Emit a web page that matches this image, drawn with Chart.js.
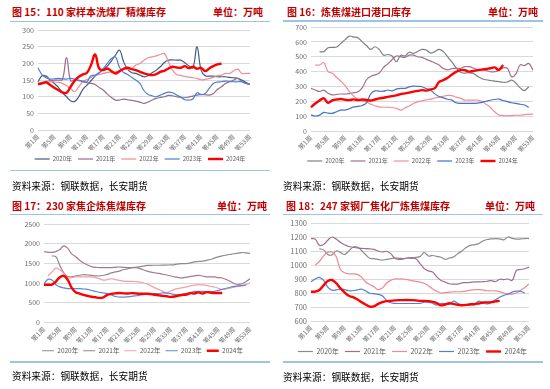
<!DOCTYPE html>
<html><head><meta charset="utf-8">
<script src="https://cdn.jsdelivr.net/npm/chart.js@4.4.1/dist/chart.umd.min.js"></script>
<style>
html,body{margin:0;padding:0;background:#fff;width:550px;height:389px;overflow:hidden;position:relative;font-family:"Noto Sans CJK SC",sans-serif;}
.t{position:absolute;font-weight:bold;color:#C00000;font-size:10px;line-height:12px;white-space:nowrap;}
.hl{position:absolute;height:1.5px;background:#9DC3E6;}
.src{position:absolute;font-size:9.7px;line-height:12px;color:#000;white-space:nowrap;}
canvas{position:absolute;}
</style></head><body>
<canvas id="c15" width="272" height="150" style="left:4px;top:22px;width:272px;height:150px;"></canvas>
<canvas id="c16" width="275" height="156" style="left:275px;top:18px;width:275px;height:156px;"></canvas>
<canvas id="c17" width="271" height="150" style="left:7px;top:214px;width:271px;height:150px;"></canvas>
<canvas id="c18" width="275" height="151" style="left:275px;top:214px;width:275px;height:151px;"></canvas>

<div class="t" style="left:12px;top:6px;">图 15：110 家样本洗煤厂精煤库存</div>
<div class="t" style="right:287px;top:6px;">单位：万吨</div>
<div class="hl" style="left:10px;width:260px;top:20.5px;"></div>
<div class="hl" style="left:10px;width:260px;top:169.5px;"></div>
<div class="src" style="left:12px;top:180px;">资料来源：钢联数据，长安期货</div>

<div class="t" style="left:287px;top:6px;">图 16：炼焦煤进口港口库存</div>
<div class="t" style="right:12px;top:6px;">单位：万吨</div>
<div class="hl" style="left:283px;width:260px;top:20px;"></div>
<div class="src" style="left:283px;top:180px;">资料来源：钢联数据，长安期货</div>

<div class="t" style="left:12px;top:199.5px;">图 17：230 家焦企炼焦煤库存</div>
<div class="t" style="right:283px;top:199.5px;">单位：万吨</div>
<div class="hl" style="left:10px;width:260px;top:213.5px;"></div>
<div class="hl" style="left:10px;width:260px;top:361px;"></div>
<div class="src" style="left:12px;top:370px;">资料来源：钢联数据，长安期货</div>

<div class="t" style="left:286px;top:199.5px;">图 18：247 家钢厂焦化厂炼焦煤库存</div>
<div class="t" style="right:15px;top:199.5px;">单位：万吨</div>
<div class="hl" style="left:283px;width:260px;top:213.5px;"></div>
<div class="hl" style="left:283px;width:260px;top:361px;"></div>
<div class="src" style="left:283px;top:371px;">资料来源：钢联数据，长安期货</div>

<script>
const weeks = ['第1周','第2周','第3周','第4周','第5周','第6周','第7周','第8周','第9周','第10周','第11周','第12周','第13周','第14周','第15周','第16周','第17周','第18周','第19周','第20周','第21周','第22周','第23周','第24周','第25周','第26周','第27周','第28周','第29周','第30周','第31周','第32周','第33周','第34周','第35周','第36周','第37周','第38周','第39周','第40周','第41周','第42周','第43周','第44周','第45周','第46周','第47周','第48周','第49周','第50周','第51周','第52周','第53周'];
const seriesNames = ['2020年','2021年','2022年','2023年','2024年'];

// 图15：110家样本洗煤厂精煤库存（万吨）
const c15_2020 = [145,163,162,150,140,128,112,100,88,86,100,122,135,148,162,172,182,192,208,225,240,205,182,172,170,165,160,163,172,180,190,203,210,211,210,210,202,193,187,250,180,163,162,162,160,160,160,158,157,155,150,143,137];
const c15_2021 = [140,143,146,148,150,150,152,218,148,150,148,145,142,140,137,128,120,108,98,90,90,93,91,89,87,84,80,84,90,95,98,100,104,103,100,98,97,99,102,105,107,106,105,110,122,130,140,145,150,155,145,140,137];
const c15_2022 = [138,140,142,145,145,143,140,133,125,115,130,145,152,158,163,167,170,173,175,175,178,185,182,185,195,200,210,217,220,223,227,230,205,180,167,164,161,159,157,155,151,152,155,158,163,165,170,170,178,183,170,170,170];
const c15_2023 = [187,166,157,153,154,155,154,153,155,153,150,147,145,163,165,172,185,200,215,220,188,173,167,158,150,140,118,107,103,100,105,110,114,112,105,99,91,90,93,112,106,110,125,140,144,145,147,146,145,145,145,140,137];
const c15_2024 = [137,140,143,135,127,120,113,112,130,148,160,167,172,195,227,185,180,185,177,170,177,184,187,183,180,175,170,167,165,168,175,178,185,190,188,187,192,186,190,184,187,177,185,192,197,200];

// 图16：炼焦煤进口港口库存（万吨）
const c16_2020 = [null,null,534,534,560,563,565,590,615,639,632,628,600,575,549,567,548,510,515,505,466,510,505,530,522,535,549,545,525,534,549,534,500,465,425,395,390,392,388,368,352,345,340,336,332,328,330,342,322,290,272,298];
const c16_2021 = [287,276,266,275,254,243,246,249,249,252,258,264,290,345,368,378,390,428,452,480,505,500,495,511,511,500,496,482,470,458,444,420,412,420,422,422,433,433,424,412,414,408,399,399,408,425,422,365,385,445,440,455,410];
const c16_2022 = [null,444,444,460,400,388,360,335,305,265,235,215,200,195,180,170,162,160,160,158,152,141,155,168,185,196,203,210,214,222,228,234,240,238,228,220,208,208,208,208,200,180,160,130,108,104,102,104,106,106,110,112,114];
const c16_2023 = [108,101,107,125,120,119,130,141,141,150,162,166,172,190,250,270,268,268,276,270,282,287,287,297,302,300,298,285,276,250,232,223,214,208,190,186,186,186,186,187,193,200,207,212,215,205,198,190,186,180,175,159];
const c16_2024 = [159,185,205,220,190,206,212,215,210,208,213,208,212,209,205,212,220,224,230,235,240,248,253,258,265,270,275,272,280,288,330,342,358,380,398,410,410,400,404,410,413,418,422,428,412,444];

// 图17：230家焦企炼焦煤库存（万吨）
const c17_2020 = [null,null,1690,1670,1450,1260,1165,1160,1180,1200,1215,1205,1198,1185,1181,1200,1220,1260,1285,1305,1340,1360,1385,1400,1411,1430,1450,1452,1453,1453,1455,1458,1462,1470,1490,1496,1496,1515,1538,1548,1560,1578,1600,1635,1665,1690,1710,1728,1745,1760,1776,1765,1755];
const c17_2021 = [1795,1785,1780,1800,1850,1946,1880,1740,1670,1580,1510,1460,1420,1400,1395,1394,1394,1394,1400,1408,1400,1394,1394,1390,1375,1340,1305,1280,1262,1245,1225,1205,1180,1160,1140,1135,1150,1170,1185,1195,1180,1160,1156,1156,1140,1130,1090,1045,990,965,985,1040,1110];
const c17_2022 = [null,1180,1283,1380,1340,1241,1135,1140,1156,1156,1156,1156,1156,1140,1113,1075,1090,1110,1090,1071,1050,1045,1045,1040,1030,1005,980,930,880,840,790,760,800,841,865,885,905,930,950,960,955,943,920,900,870,841,850,870,900,915,926,960,1010];
const c17_2023 = [990,1095,1080,960,905,880,860,858,858,858,850,841,815,790,765,750,731,700,660,646,646,650,663,675,688,705,720,731,731,735,750,745,731,712,705,720,740,765,790,790,790,785,775,790,816,840,870,895,915,930,940,943];
const c17_2024 = [960,960,960,1040,1150,1185,1080,880,770,735,700,675,655,640,625,640,700,725,740,750,740,735,745,740,731,731,731,720,705,690,675,665,650,660,685,700,710,745,735,765,735,770,760,750,748,748];

// 图18：247家钢厂焦化厂炼焦煤库存（万吨）
const c18_2020 = [null,null,1117,1108,1075,1072,1100,1090,1075,1100,1127,1129,1105,1075,1048,1045,1040,1035,1040,1045,1050,1048,1046,1050,1052,1055,1060,1088,1064,1068,1062,1055,1040,1050,1057,1081,1100,1125,1140,1146,1153,1172,1182,1186,1189,1187,1180,1200,1190,1185,1186,1189,1189];
const c18_2021 = [1189,1185,1141,1146,1177,1200,1185,1162,1145,1132,1127,1122,1119,1117,1115,1112,1100,1093,1098,1081,1048,1040,1043,1050,1048,1045,1010,975,958,950,915,890,878,866,864,864,872,874,876,880,879,881,884,889,882,898,896,900,890,962,968,973,985];
const c18_2022 = [null,1000,1025,1065,1090,1093,1060,970,945,937,937,933,915,880,860,845,824,835,870,890,900,900,900,895,889,883,878,870,852,830,812,800,802,806,809,809,810,814,820,824,824,822,816,816,815,810,800,792,792,800,820,840,865];
const c18_2023 = [881,900,912,890,842,820,822,828,824,816,816,822,828,816,798,795,790,780,748,730,726,725,725,725,725,725,726,735,733,727,714,725,722,720,742,727,714,713,713,720,742,728,722,732,752,770,783,792,806,814,812,800];
const c18_2024 = [809,810,822,855,885,893,870,835,805,780,770,755,735,718,703,705,722,735,742,744,747,749,749,750,749,747,744,744,742,737,728,712,718,727,722,715,713,715,720,720,725,732,733,735,740,744];

const FONT = '"Noto Sans CJK SC","Liberation Sans",sans-serif';

function makeChart(id, series, colors, yMin, yMax, yStep, g) {
  const datasets = series.map((d, k) => ({
    label: seriesNames[k], data: d, yAxisID: 'y',
    borderColor: colors[k], backgroundColor: colors[k],
    borderWidth: k === 4 ? 2.4 : 1.2,
    pointRadius: 0, pointHoverRadius: 0,
    tension: 0.4, fill: false, order: 5 - k
  }));
  return new Chart(document.getElementById(id), {
    type: 'line',
    data: { labels: weeks, datasets },
    options: {
      responsive: false, animation: false, devicePixelRatio: 1,
      events: [],
      layout: { padding: { top: g.padTop, right: 0, left: 0, bottom: 0 } },
      plugins: {
        legend: {
          position: 'bottom',
          labels: {
            usePointStyle: true, pointStyle: 'line', pointStyleWidth: g.lineLen,
            font: { size: g.legendFont, family: FONT }, color: '#595959', padding: g.legendPad,
            sort: (a, b) => a.datasetIndex - b.datasetIndex
          }
        },
        tooltip: { enabled: false }
      },
      scales: {
        x: {
          grid: { display: false, drawTicks: false }, border: { display: false },
          ticks: {
            autoSkip: false, maxRotation: 45, minRotation: 45, padding: 3,
            font: { size: 6.5, family: FONT }, color: '#6f6f6f',
            callback: (v, i) => (i % 4 === 0 ? weeks[i] : null)
          },
          afterFit: s => { s.height = g.xHeight; }
        },
        y: {
          position: 'left', min: yMin, max: yMax,
          ticks: { stepSize: yStep, padding: 4, font: { size: g.yFont, family: FONT }, color: '#6f6f6f',
                   callback: v => String(v) },
          grid: { color: '#D9D9D9', drawTicks: false, lineWidth: 1 },
          border: { display: false },
          afterFit: s => { s.width = g.yWidth; }
        },
        yR: {
          position: 'right', display: true,
          grid: { display: false, drawTicks: false }, border: { display: false },
          ticks: { display: false },
          afterFit: s => { s.width = g.rightGap; }
        }
      }
    }
  });
}

makeChart('c15', [c15_2020, c15_2021, c15_2022, c15_2023, c15_2024],
  ['#3E5E8A', '#9C6C8C', '#EE8C96', '#4A7FD6', '#FF0000'], 0, 300, 50,
  { yWidth: 34, rightGap: 26, xHeight: 20, padTop: 8, yFont: 7, legendFont: 6, legendPad: 6, lineLen: 15 });
makeChart('c16', [c16_2020, c16_2021, c16_2022, c16_2023, c16_2024],
  ['#7F7F7F', '#A0708F', '#F08F99', '#4472C4', '#FF0000'], 0, 700, 100,
  { yWidth: 36, rightGap: 17, xHeight: 21, padTop: 9, yFont: 7, legendFont: 6, legendPad: 6, lineLen: 15 });
makeChart('c17', [c17_2020, c17_2021, c17_2022, c17_2023, c17_2024],
  ['#8C8C8C', '#A67892', '#F2A0A8', '#5B88D8', '#FF0000'], 0, 2500, 500,
  { yWidth: 37, rightGap: 28, xHeight: 20, padTop: 10, yFont: 7, legendFont: 6.5, legendPad: 5, lineLen: 12 });
makeChart('c18', [c18_2020, c18_2021, c18_2022, c18_2023, c18_2024],
  ['#8C8C8C', '#9E6E8E', '#EE8A94', '#5080D4', '#FF0000'], 600, 1300, 100,
  { yWidth: 36, rightGap: 21, xHeight: 21, padTop: 9, yFont: 7.5, legendFont: 7, legendPad: 6, lineLen: 15 });
</script>
</body></html>
